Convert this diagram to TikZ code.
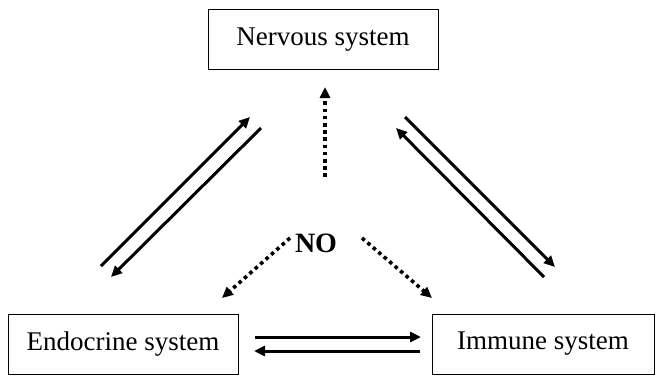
\documentclass[tikz,border=0pt]{standalone}
\usepackage{fontspec}
\setmainfont{Liberation Serif}
\usetikzlibrary{arrows.meta,positioning}

\begin{document}
\begin{tikzpicture}[x=1pt,y=-1pt,>={Triangle[length=11pt,width=10pt]},font=\fontsize{27}{32}\selectfont]
\tikzset{sysbox/.style={draw,line width=1pt,minimum height=60pt,inner sep=0pt},
  link/.style={->,line width=3pt},
  nolink/.style={->,line width=3.6pt,dash pattern=on 3.6pt off 3.6pt}}
\useasboundingbox (0,0) rectangle (657,376);
\node[sysbox,minimum width=230pt] (nerv) at (323,39.5) {Nervous system};
\node[sysbox,minimum width=230pt] (endo) at (123,344) {Endocrine system};
\node[sysbox,minimum width=222pt] (immu) at (543,344) {Immune system};
\node[font=\fontsize{28}{32}\selectfont\bfseries] (no) at (316,243) {NO};
% endpoints of the paired arrows
\coordinate (el1) at (101,266);
\coordinate (el2) at (250,117);
\coordinate (el3) at (261,128);
\coordinate (el4) at (111,277);
\coordinate (ir1) at (405,117);
\coordinate (ir2) at (555,267);
\coordinate (ir3) at (544,277);
\coordinate (ir4) at (396,128);
\coordinate (ei1) at (255,337);
\coordinate (ei2) at (421,337);
\coordinate (ei3) at (420,351);
\coordinate (ei4) at (254,351);
\draw[link] (el1)--(el2);
\draw[link] (el3)--(el4);
\draw[link] (ir1)--(ir2);
\draw[link] (ir3)--(ir4);
\draw[link] (ei1)--(ei2);
\draw[link] (ei3)--(ei4);
% dotted arrows from NO
\coordinate (nu) at (325,87);
\coordinate (nl) at (222,298);
\coordinate (nr) at (432,298);
\draw[nolink] (325,177)--(nu);
\draw[nolink] (290,238)--(nl);
\draw[nolink] (362,238)--(nr);
\end{tikzpicture}
\end{document}
